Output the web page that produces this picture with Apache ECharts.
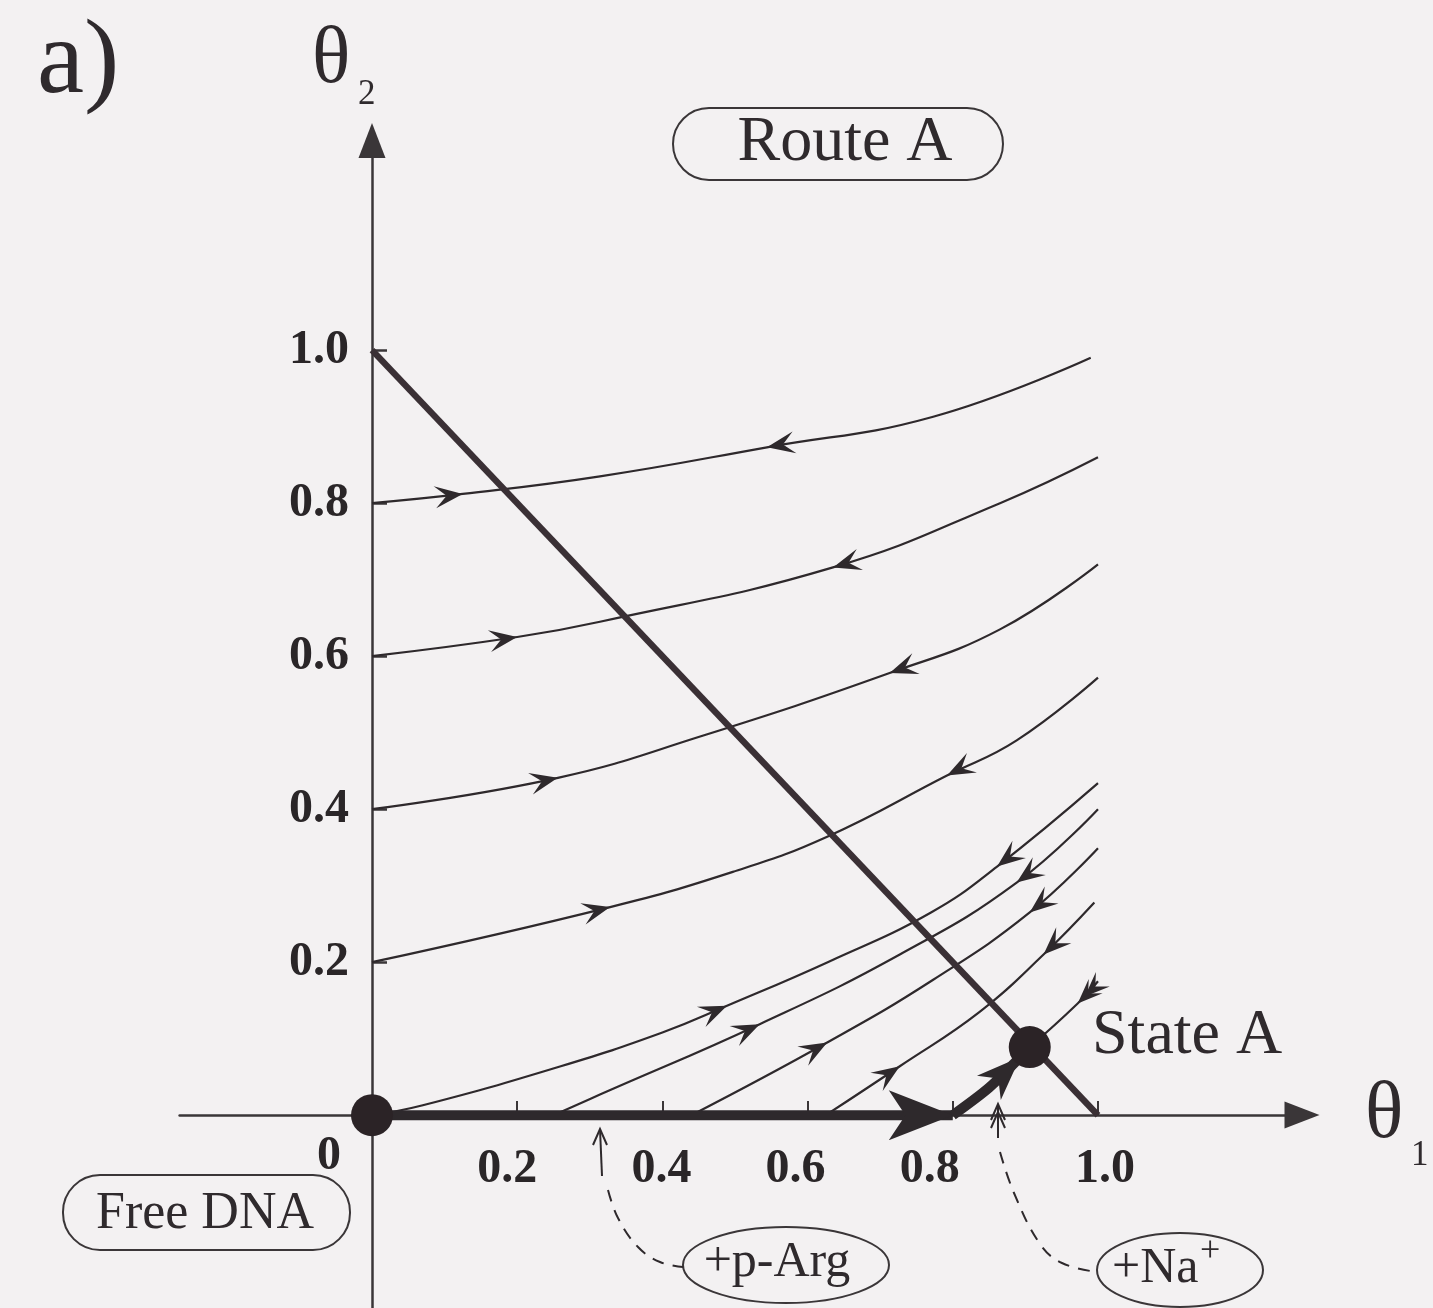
<!DOCTYPE html>
<html>
<head>
<meta charset="utf-8">
<script src="https://cdn.jsdelivr.net/npm/echarts@6/dist/echarts.min.js"></script>
<style>
html,body{margin:0;padding:0;background:#f3f1f2;}
#c{width:1433px;height:1308px;}
</style>
</head>
<body>
<div id="c"></div>
<script>
// ---------- data (θ1, θ2) ----------
const xTickValues = [0.2, 0.4, 0.6, 0.8, 1.0];
const yTickValues = [0.2, 0.4, 0.6, 0.8, 1.0];
const xTickLabels = ['0.2', '0.4', '0.6', '0.8', '1.0'];
const yTickLabels = ['0.2', '0.4', '0.6', '0.8', '1.0'];

const trajFrom08   = [[0,0.80],[0.125,0.812],[0.314,0.835],[0.544,0.873],[0.773,0.913],[0.99,0.99]];
const trajFrom06   = [[0,0.60],[0.20,0.625],[0.314,0.645],[0.635,0.716],[0.865,0.80],[1.0,0.86]];
const trajFrom04   = [[0,0.40],[0.256,0.441],[0.452,0.495],[0.713,0.578],[0.865,0.635],[1.0,0.72]];
const trajFrom02   = [[0,0.20],[0.328,0.272],[0.497,0.318],[0.627,0.364],[0.792,0.444],[0.888,0.49],[1.0,0.572]];
const trajFrom00   = [[0,0],[0.07,0.013],[0.26,0.064],[0.40,0.108],[0.489,0.143],[0.63,0.201],[0.77,0.265],[0.861,0.325],[1.0,0.434]];
const trajFrom025  = [[0.25,0],[0.314,0.027],[0.534,0.119],[0.727,0.21],[0.888,0.304],[1.0,0.40]];
const trajFrom044  = [[0.44,0],[0.627,0.095],[0.773,0.177],[0.906,0.265],[1.0,0.349]];
const trajFrom0625 = [[0.625,0],[0.727,0.064],[0.837,0.135],[0.925,0.21],[0.995,0.278]];
const trajIntoA    = [[0.906,0.089],[0.972,0.146],[1.0,0.175]];

const tieLine   = [[0,1],[1,0]];
const routeLeg1 = [[0,0],[0.80,0]];
const routeLeg2 = [[0.80,0],[0.85,0.036],[0.893,0.076]];
const freeDNA   = [[0,0]];
const stateA    = [[0.906,0.089]];

// flow arrows: [trajectory, point index, direction (+1 forward / -1 backward), double?]
const flowArrows = [
  ['trajFrom08',1,1,0],['trajFrom08',3,-1,0],
  ['trajFrom06',1,1,0],['trajFrom06',3,-1,0],
  ['trajFrom04',1,1,0],['trajFrom04',3,-1,0],
  ['trajFrom02',1,1,0],['trajFrom02',4,-1,0],
  ['trajFrom00',4,1,0],['trajFrom00',7,-1,0],
  ['trajFrom025',2,1,0],['trajFrom025',4,-1,0],
  ['trajFrom044',1,1,0],['trajFrom044',3,-1,0],
  ['trajFrom0625',1,1,0],['trajFrom0625',3,-1,0],
  ['trajIntoA',1,-1,1]
];

// ---------- rendering ----------
const SERIF = '"Liberation Serif","Times New Roman",serif';
const INK = '#2e292c';
const AXIS = '#3a3638';

const trajectories = {trajFrom08, trajFrom06, trajFrom04, trajFrom02, trajFrom00, trajFrom025, trajFrom044, trajFrom0625, trajIntoA};

const arrowData = flowArrows.map(([name, i, dir, dbl]) => {
  const c = trajectories[name];
  const a = c[Math.max(0, i - 1)], b = c[Math.min(c.length - 1, i + 1)];
  const from = dir > 0 ? a : b, to = dir > 0 ? b : a;
  return [c[i][0], c[i][1], from[0], from[1], to[0], to[1], dbl ? 1 : 0];
});
arrowData.push([routeLeg1[1][0], routeLeg1[1][1], routeLeg1[0][0], routeLeg1[0][1], routeLeg1[1][0], routeLeg1[1][1], 2]);
arrowData.push([routeLeg2[2][0], routeLeg2[2][1], routeLeg2[1][0], routeLeg2[1][1], routeLeg2[2][0], routeLeg2[2][1], 3]);

const HEADS = [
  {L: 28, W: 11, N: 0.58, count: 1, gap: 0},
  {L: 25, W: 10, N: 0.58, count: 2, gap: 10},
  {L: 64, W: 25, N: 0.74, count: 1, gap: 0},
  {L: 44, W: 17, N: 0.7, count: 1, gap: 0}
];

function curve(name, data, width, z) {
  return {name, type: 'line', data, symbol: 'none', showSymbol: false, smooth: 0.45,
    lineStyle: {color: INK, width}, z, silent: true, animation: false};
}

const xLabelShift = {'0.2': -10, '0.4': -1, '0.6': -12, '0.8': -23, '1.0': 7};
const xRich = {};
xTickLabels.forEach((l, i) => {
  const s = xLabelShift[l] || 0;
  xRich['r' + i] = {fontFamily: SERIF, fontSize: 48, fontWeight: 'bold', color: '#2a2628',
    padding: s < 0 ? [0, -2 * s, 0, 0] : [0, 0, 0, 2 * s]};
});

const chart = echarts.init(document.getElementById('c'));
const option = {
  backgroundColor: '#f3f1f2',
  animation: false,
  grid: {left: 179.6, right: 131, top: 140.5, bottom: 0, containLabel: false, outerBoundsMode: 'none'},
  xAxis: {
    type: 'value', min: -0.265, max: 1.281, position: 'bottom', offset: -193,
    axisLine: {show: true, onZero: false, symbol: ['none', 'triangle'], symbolSize: [27, 35],
      lineStyle: {color: AXIS, width: 2.5}},
    axisTick: {show: true, inside: true, length: 14, customValues: xTickValues, lineStyle: {color: AXIS, width: 2}},
    axisLabel: {show: true, customValues: xTickValues, margin: 31,
      formatter: v => {
        const i = xTickValues.findIndex(t => Math.abs(t - v) < 1e-6);
        return i < 0 ? '' : '{r' + i + '|' + xTickLabels[i] + '}';
      },
      rich: xRich},
    splitLine: {show: false}
  },
  yAxis: {
    type: 'value', min: -0.252, max: 1.274, position: 'left', offset: -192.4,
    axisLine: {show: true, onZero: false, symbol: ['none', 'triangle'], symbolSize: [27, 35],
      lineStyle: {color: AXIS, width: 2.5}},
    axisTick: {show: true, inside: true, length: 15, customValues: yTickValues, lineStyle: {color: AXIS, width: 2.5}},
    axisLabel: {show: true, customValues: yTickValues, margin: 23,
      formatter: v => {
        const i = yTickValues.findIndex(t => Math.abs(t - v) < 1e-6);
        return i < 0 ? '' : yTickLabels[i];
      },
      fontFamily: SERIF, fontSize: 48, fontWeight: 'bold', color: '#2a2628'},
    splitLine: {show: false}
  },
  series: [
    curve('trajFrom08', trajFrom08, 2.2, 2),
    curve('trajFrom06', trajFrom06, 2.2, 2),
    curve('trajFrom04', trajFrom04, 2.2, 2),
    curve('trajFrom02', trajFrom02, 2.2, 2),
    curve('trajFrom00', trajFrom00, 2.2, 2),
    curve('trajFrom025', trajFrom025, 2.2, 2),
    curve('trajFrom044', trajFrom044, 2.2, 2),
    curve('trajFrom0625', trajFrom0625, 2.2, 2),
    curve('trajIntoA', trajIntoA, 2.2, 2),
    {name: 'tieLine', type: 'line', data: tieLine, symbol: 'none', lineStyle: {color: '#3a3035', width: 6.5}, z: 3, silent: true},
    {name: 'routeLeg1', type: 'line', data: routeLeg1, symbol: 'none', lineStyle: {color: INK, width: 10}, z: 4, silent: true},
    {name: 'routeLeg2', type: 'line', data: routeLeg2, symbol: 'none', smooth: 0.3, lineStyle: {color: INK, width: 10}, z: 4, silent: true},
    {
      name: 'arrows', type: 'custom', data: arrowData, encode: {x: 0, y: 1}, clip: false, z: 5, silent: true,
      renderItem(params, api) {
        const t = api.coord([api.value(0), api.value(1)]);
        const a = api.coord([api.value(2), api.value(3)]);
        const b = api.coord([api.value(4), api.value(5)]);
        let ux = b[0] - a[0], uy = b[1] - a[1];
        const len = Math.hypot(ux, uy) || 1; ux /= len; uy /= len;
        const nx = -uy, ny = ux;
        const s = HEADS[api.value(6)];
        const children = [];
        for (let k = 0; k < s.count; k++) {
          const tx = t[0] - ux * s.gap * k, ty = t[1] - uy * s.gap * k;
          children.push({type: 'polygon', shape: {points: [
            [tx, ty],
            [tx - ux * s.L + nx * s.W, ty - uy * s.L + ny * s.W],
            [tx - ux * s.L * s.N, ty - uy * s.L * s.N],
            [tx - ux * s.L - nx * s.W, ty - uy * s.L - ny * s.W]
          ]}, style: {fill: INK}});
        }
        return {type: 'group', children};
      }
    },
    {name: 'Free DNA', type: 'scatter', data: freeDNA, symbolSize: 42, itemStyle: {color: '#2b2326', opacity: 1}, z: 6, silent: true},
    {name: 'State A', type: 'scatter', data: stateA, symbolSize: 42, itemStyle: {color: '#2b2326', opacity: 1}, z: 6, silent: true}
  ]
};
chart.setOption(option);

// ---------- annotations ----------
function txt(text, x, y, size, opts) {
  return {type: 'text', z: 20, silent: true,
    style: Object.assign({text, x, y, fontFamily: SERIF, fontSize: size, fill: '#2f2a2d', align: 'left', verticalAlign: 'middle'}, opts || {})};
}
function vHead(x, y, L, W) {
  return {type: 'polyline', z: 20, silent: true, shape: {points: [[x - W, y + L], [x, y], [x + W, y + L]]},
    style: {stroke: INK, lineWidth: 2, fill: null}};
}
const graphics = [
  txt('a)', 37, 64, 106),
  txt('θ', 312, 61, 80),
  txt('2', 358, 95, 35),
  txt('θ', 1365, 1116, 80),
  txt('1', 1411, 1156, 35),
  {type: 'rect', z: 19, silent: true, shape: {x: 673, y: 108, width: 330, height: 72, r: 36}, style: {fill: null, stroke: '#3a3638', lineWidth: 2}},
  txt('Route A', 845, 143, 64, {align: 'center'}),
  {type: 'rect', z: 19, silent: true, shape: {x: 63, y: 1175, width: 287, height: 75, r: 37}, style: {fill: null, stroke: '#3a3638', lineWidth: 2}},
  txt('Free DNA', 205, 1214, 52, {align: 'center'}),
  txt('State A', 1092, 1036, 64),
  txt('0', 329, 1157, 48, {align: 'center', fontWeight: 'bold', fill: '#2a2628'}),
  {type: 'ellipse', z: 19, silent: true, shape: {cx: 786, cy: 1265, rx: 103, ry: 38}, style: {fill: null, stroke: '#3a3638', lineWidth: 2}},
  txt('+p-Arg', 777, 1263, 50, {align: 'center'}),
  {type: 'ellipse', z: 19, silent: true, shape: {cx: 1180, cy: 1270, rx: 83, ry: 37}, style: {fill: null, stroke: '#3a3638', lineWidth: 2}},
  txt('+Na', 1112, 1269, 50),
  txt('+', 1200, 1252, 36),
  {type: 'line', z: 20, silent: true, shape: {x1: 602, y1: 1176, x2: 600, y2: 1129}, style: {stroke: INK, lineWidth: 2}},
  vHead(600, 1129, 16, 7),
  {type: 'polyline', z: 20, silent: true, shape: {points: [[608, 1190], [618, 1218], [638, 1247], [660, 1262], [683, 1267]], smooth: 0.4},
    style: {stroke: INK, lineWidth: 2, fill: null, lineDash: [12, 9]}},
  {type: 'line', z: 20, silent: true, shape: {x1: 998, y1: 1138, x2: 998, y2: 1104}, style: {stroke: INK, lineWidth: 2}},
  vHead(998, 1104, 16, 7),
  vHead(998, 1112, 16, 7),
  {type: 'polyline', z: 20, silent: true, shape: {points: [[1000, 1152], [1014, 1193], [1040, 1244], [1062, 1263], [1097, 1272]], smooth: 0.4},
    style: {stroke: INK, lineWidth: 2, fill: null, lineDash: [12, 9]}}
];
chart.setOption({graphic: graphics});
</script>
</body>
</html>
